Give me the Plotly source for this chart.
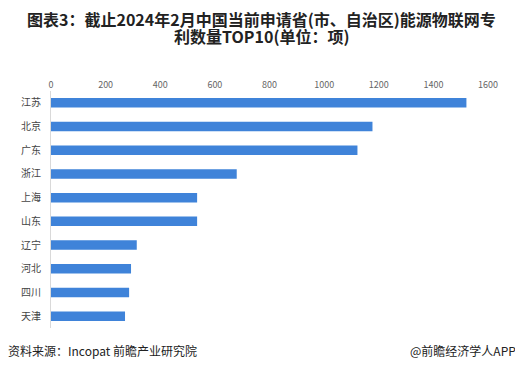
import plotly.graph_objects as go

categories = ["江苏", "北京", "广东", "浙江", "上海", "山东", "辽宁", "河北", "四川", "天津"]
values = [1521, 1177, 1122, 680, 535, 535, 314, 293, 286, 271]
tick_vals = [0, 200, 400, 600, 800, 1000, 1200, 1400, 1600]

title_line1 = "图表3：截止2024年2月中国当前申请省(市、自治区)能源物联网专"
title_line2 = "利数量TOP10(单位：项)"
source_text = "资料来源：Incopat 前瞻产业研究院"
brand_text = "@前瞻经济学人APP"

FONT = "Noto Sans CJK SC"
OFF = 8  # page body margin offset in the screenshot
SW, SH = 523, 379  # screenshot size
W, H = SW - OFF, SH - OFF
# target pixel positions in the screenshot
PL, PR, PT, PB = 51, 488, 91, 328
ML, MT = PL - OFF, PT - OFF
MR, MB = SW - PR, SH - PB
PW, PH = PR - PL, PB - PT


def px_x(p):
    return (p - PL) / PW


def px_y(p):
    return (PB - p) / PH


fig = go.Figure(go.Bar(
    x=values,
    y=categories,
    orientation="h",
    marker=dict(color="#3f83d9", line=dict(width=0)),
    width=0.4,
))

fig.update_layout(
    width=W, height=H,
    margin=dict(l=ML, r=MR, t=MT, b=MB),
    paper_bgcolor="white",
    plot_bgcolor="white",
    font=dict(family=FONT, color="#333333"),
    showlegend=False,
)

fig.update_xaxes(
    range=[0, 1600],
    tickvals=tick_vals,
    side="top",
    showgrid=False,
    zeroline=False,
    showline=False,
    ticks="",
    automargin=False,
    tickfont=dict(size=9, color="#666666", family=FONT),
)
fig.update_yaxes(
    autorange="reversed",
    showgrid=False,
    zeroline=False,
    showline=True,
    linecolor="#d9d9d9",
    linewidth=1,
    ticks="",
    automargin=False,
    ticklabelstandoff=7,
    tickfont=dict(size=10, color="#444444", family=FONT),
)

for txt, yc in ((title_line1, 19), (title_line2, 36)):
    fig.add_annotation(
        text="<b>" + txt + "</b>",
        xref="paper", yref="paper", x=px_x(261), y=px_y(yc),
        xanchor="center", yanchor="middle",
        showarrow=False, align="center", borderpad=0,
        font=dict(size=16, color="#222222", family=FONT),
    )
fig.add_annotation(
    text=source_text, xref="paper", yref="paper",
    x=px_x(6), y=px_y(350), xanchor="left", yanchor="middle",
    showarrow=False, font=dict(size=12, color="#222222", family=FONT),
)
fig.add_annotation(
    text=brand_text, xref="paper", yref="paper",
    x=px_x(518), y=px_y(350), xanchor="right", yanchor="middle",
    showarrow=False, font=dict(size=12, color="#222222", family=FONT),
)

fig.write_html("out.html")
